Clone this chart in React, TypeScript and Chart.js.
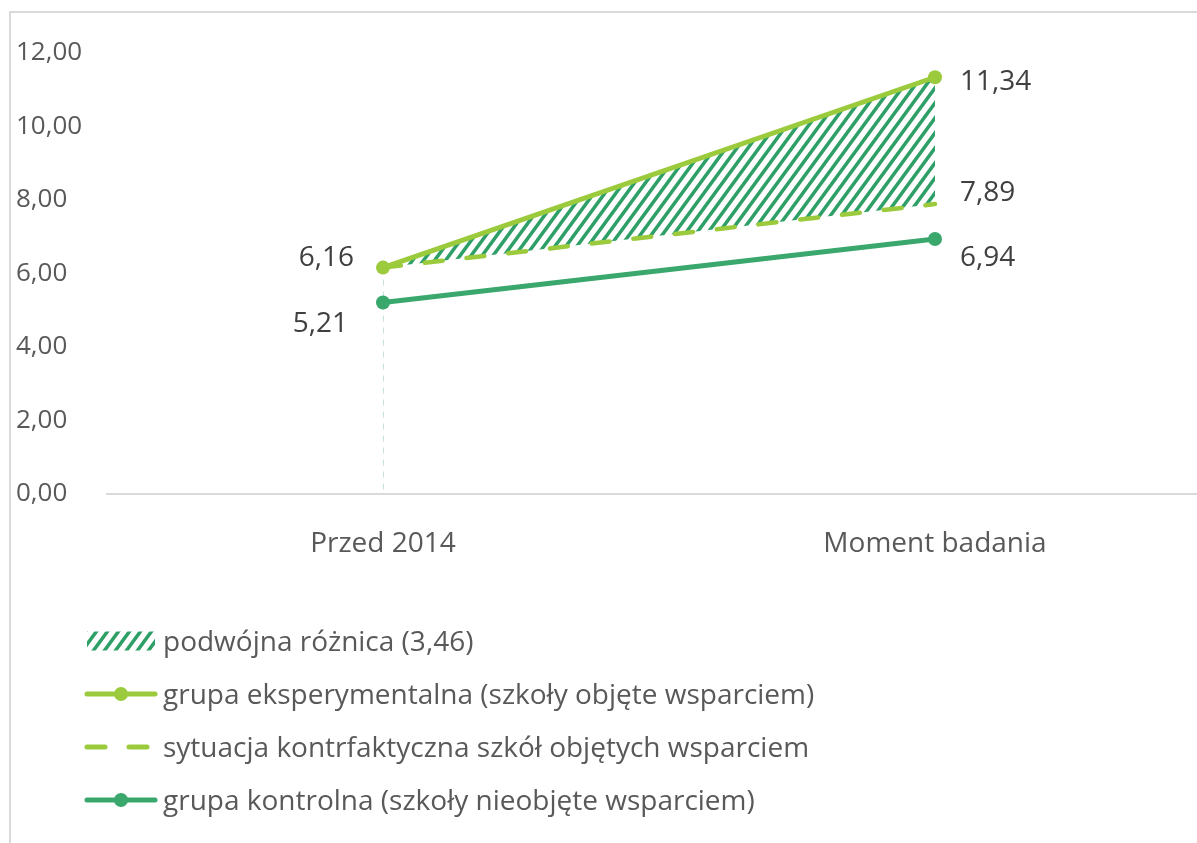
import { useEffect, useRef } from 'react';
import { Chart, registerables } from 'chart.js';

Chart.register(...registerables);

const categories = ['Przed 2014', 'Moment badania'];
const experimentalValues = [6.16, 11.34];
const counterfactualValues = [6.16, 7.89];
const controlValues = [5.21, 6.94];
const yTickValues = [0, 2, 4, 6, 8, 10, 12];
const legendLabels = [
  'podwójna różnica (3,46)',
  'grupa eksperymentalna (szkoły objęte wsparciem)',
  'sytuacja kontrfaktyczna szkół objętych wsparciem',
  'grupa kontrolna (szkoły nieobjęte wsparciem)',
];

const LIGHT = '#9BCB3C';
const DARK = '#3AA76D';
const HATCH = '#2E9F66';
const AXIS_TEXT = '#595959';
const LABEL_TEXT = '#404040';
const FONT = '"Open Sans", Lato, sans-serif';

// label placement per dataset / point: [dx, dy(baseline), align]
const labelPlacement: (null | [number, number, CanvasTextAlign])[][] = [
  [[-29, -2, 'right'], [25, 13, 'left']],
  [null, [25, -3, 'left']],
  [[-35, 29, 'right'], [25, 27, 'left']],
];

const fmt = (v: number) => v.toFixed(2).replace('.', ',');

function makeHatch(): CanvasPattern | string {
  const c = document.createElement('canvas');
  const w = 11;
  const h = 15;
  c.width = w;
  c.height = h;
  const ctx = c.getContext('2d');
  if (!ctx) return HATCH;
  ctx.strokeStyle = HATCH;
  ctx.lineWidth = 3.5;
  for (const dx of [-w, 0, w]) {
    ctx.beginPath();
    ctx.moveTo(dx - w, 2 * h);
    ctx.lineTo(dx + 2 * w, -h);
    ctx.stroke();
  }
  return ctx.createPattern(c, 'repeat') || HATCH;
}

export default function App() {
  const ref = useRef<HTMLCanvasElement | null>(null);

  useEffect(() => {
    const canvas = ref.current;
    if (!canvas) return;
    const hatch = makeHatch();

    const dropLinePlugin = {
      id: 'dropLine',
      beforeDatasetsDraw(chart: any) {
        const { ctx, chartArea, scales } = chart;
        const x = scales.x.getPixelForValue(0);
        const top = Math.max(experimentalValues[0], counterfactualValues[0], controlValues[0]);
        const y = scales.y.getPixelForValue(top);
        ctx.save();
        ctx.strokeStyle = '#C9DFDF';
        ctx.lineWidth = 1;
        ctx.setLineDash([6, 6]);
        ctx.beginPath();
        ctx.moveTo(x + 0.5, y);
        ctx.lineTo(x + 0.5, chartArea.bottom);
        ctx.stroke();
        ctx.restore();
      },
    };

    const valueLabelPlugin = {
      id: 'valueLabels',
      afterDatasetsDraw(chart: any) {
        const { ctx } = chart;
        ctx.save();
        ctx.font = `28px ${FONT}`;
        ctx.fillStyle = LABEL_TEXT;
        ctx.textBaseline = 'alphabetic';
        chart.data.datasets.forEach((ds: any, i: number) => {
          const meta = chart.getDatasetMeta(i);
          ds.data.forEach((v: number, j: number) => {
            const p = labelPlacement[i] && labelPlacement[i][j];
            if (!p) return;
            const pt = meta.data[j];
            ctx.textAlign = p[2];
            ctx.fillText(fmt(v), pt.x + p[0], pt.y + p[1]);
          });
        });
        ctx.restore();
      },
    };

    const legendPlugin = {
      id: 'customLegend',
      afterDraw(chart: any) {
        const { ctx, chartArea } = chart;
        const x0 = chartArea.left - 22;
        const x1 = x0 + 72;
        const textX = x0 + 78;
        const y0 = chartArea.bottom + 147;
        const step = 53;
        ctx.save();
        ctx.font = `28px ${FONT}`;
        ctx.fillStyle = AXIS_TEXT;
        ctx.textAlign = 'left';
        ctx.textBaseline = 'alphabetic';
        legendLabels.forEach((label, i) => {
          const cy = y0 + i * step;
          ctx.save();
          if (i === 0) {
            ctx.fillStyle = hatch;
            ctx.fillRect(x0 + 2, cy - 9.5, 68, 19);
          } else {
            const color = i === 3 ? DARK : LIGHT;
            ctx.strokeStyle = color;
            ctx.lineCap = 'round';
            ctx.lineWidth = 5;
            if (i === 2) ctx.setLineDash([18, 24]);
            ctx.beginPath();
            ctx.moveTo(x0 + 2, cy);
            ctx.lineTo(x1 - 2, cy);
            ctx.stroke();
            if (i !== 2) {
              ctx.setLineDash([]);
              ctx.fillStyle = color;
              ctx.beginPath();
              ctx.arc((x0 + x1) / 2, cy, 7, 0, Math.PI * 2);
              ctx.fill();
            }
          }
          ctx.restore();
          ctx.fillText(label, textX, cy + 10);
        });
        ctx.restore();
      },
    };

    const chart = new Chart(canvas, {
      type: 'line',
      data: {
        labels: categories,
        datasets: [
          {
            label: legendLabels[1],
            data: experimentalValues,
            borderColor: LIGHT,
            borderWidth: 5,
            backgroundColor: hatch as any,
            fill: '+1',
            pointRadius: 7,
            pointHoverRadius: 7,
            pointBackgroundColor: LIGHT,
            pointBorderColor: LIGHT,
            pointBorderWidth: 0,
            tension: 0,
          },
          {
            label: legendLabels[2],
            data: counterfactualValues,
            borderColor: LIGHT,
            borderWidth: 4.5,
            borderDash: [18, 24],
            borderCapStyle: 'round',
            pointRadius: 0,
            pointHoverRadius: 0,
            fill: false,
            tension: 0,
          },
          {
            label: legendLabels[3],
            data: controlValues,
            borderColor: DARK,
            borderWidth: 5,
            pointRadius: 7,
            pointHoverRadius: 7,
            pointBackgroundColor: DARK,
            pointBorderColor: DARK,
            pointBorderWidth: 0,
            fill: false,
            tension: 0,
          },
        ],
      },
      options: {
        animation: false,
        responsive: false,
        maintainAspectRatio: false,
        events: [],
        layout: { padding: { left: 5, right: 10, top: 40, bottom: 279 } },
        plugins: {
          legend: { display: false },
          tooltip: { enabled: false },
          filler: { drawTime: 'beforeDatasetsDraw' } as any,
        },
        scales: {
          x: {
            offset: true,
            grid: { display: false },
            border: { display: true, color: '#D9D9D9', width: 2 },
            ticks: { color: AXIS_TEXT, font: { family: FONT, size: 28 }, padding: 25, maxRotation: 0 },
            afterFit: (s: any) => {
              s.height = 80;
            },
          },
          y: {
            min: 0,
            max: 12,
            afterBuildTicks: (s: any) => {
              s.ticks = yTickValues.map((v) => ({ value: v }));
            },
            grid: { display: false },
            border: { display: false },
            ticks: {
              crossAlign: 'far',
              color: AXIS_TEXT,
              font: { family: FONT, size: 26 },
              callback: (v: any) => fmt(Number(v)),
            },
            afterFit: (s: any) => {
              s.width = 91;
            },
          },
        },
      },
      plugins: [dropLinePlugin, valueLabelPlugin, legendPlugin],
    });

    return () => chart.destroy();
  }, []);

  return (
    <div style={{ position: 'fixed', inset: 0, overflow: 'hidden', background: '#fff' }}>
      <div
        style={{
          position: 'absolute',
          left: 9,
          top: 11,
          width: 1250,
          height: 900,
          borderLeft: '2px solid #D9D9D9',
          borderTop: '2px solid #D9D9D9',
        }}
      >
        <canvas ref={ref} width={1210} height={840} style={{ display: 'block' }} />
      </div>
    </div>
  );
}
